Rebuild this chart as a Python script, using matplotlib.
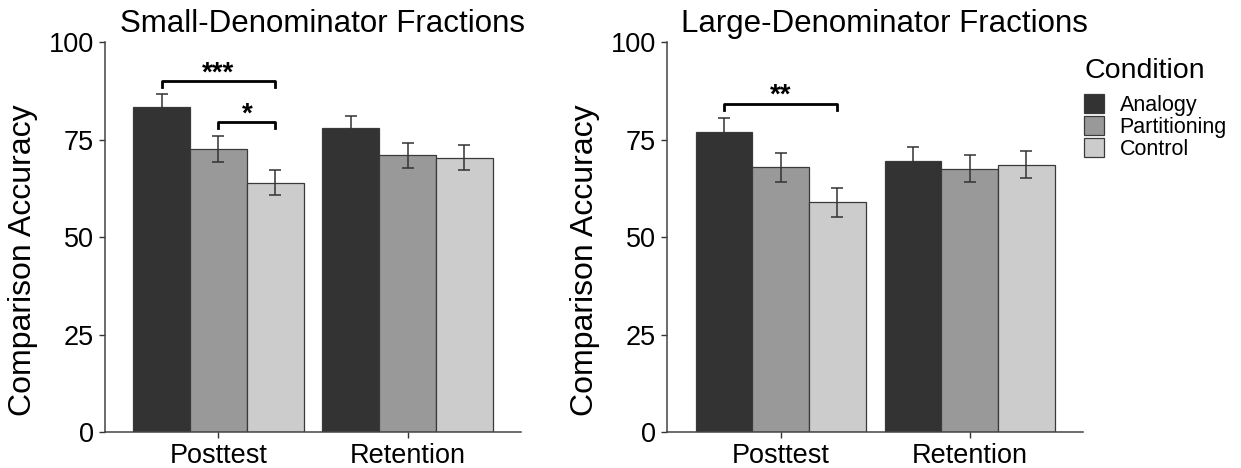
import numpy as np
import matplotlib.pyplot as plt
from matplotlib.patches import Patch

plt.rcParams['font.family'] = ['Liberation Sans', 'DejaVu Sans']

tests = ["Posttest", "Retention"]
conditions = ["Analogy", "Partitioning", "Control"]
colors = ["#333333", "#999999", "#cccccc"]

# mean accuracy, rows = condition, cols = test
small_mean = np.array([[83.4, 78.0],
                       [72.6, 71.0],
                       [63.9, 70.4]])
small_err = np.array([[3.2, 3.1],
                      [3.3, 3.2],
                      [3.2, 3.2]])
large_mean = np.array([[76.9, 69.6],
                       [67.9, 67.6],
                       [58.9, 68.6]])
large_err = np.array([[3.6, 3.4],
                      [3.7, 3.4],
                      [3.6, 3.5]])

# significance brackets: (condition from, condition to, test index, height, label)
small_sig = [(0, 2, 0, 90.0, "***"), (1, 2, 0, 79.5, "*")]
large_sig = [(0, 2, 0, 84.2, "**")]

fig = plt.figure(figsize=(12.41, 4.68), dpi=100)
ax1 = fig.add_axes([0.0846, 0.0763, 0.3352, 0.8337])
ax2 = fig.add_axes([0.5377, 0.0763, 0.3350, 0.8337])

w = 0.3
x = np.arange(1, len(tests) + 1)


def draw(ax, means, errs, sigs, title):
    for i in range(len(conditions)):
        pos = x + (i - 1) * w
        ax.bar(pos, means[i], width=w, color=colors[i], edgecolor="#3a3a3a",
               linewidth=0.9, zorder=2)
        ax.errorbar(pos, means[i], yerr=errs[i], fmt="none", ecolor="#333333",
                    elinewidth=1.1, capsize=4.6, capthick=1.1, zorder=3)
    for a, b, t, h, lab in sigs:
        xa = x[t] + (a - 1) * w
        xb = x[t] + (b - 1) * w
        ax.plot([xa, xa, xb, xb], [h - 1.5, h, h, h - 1.5], color="black",
                linewidth=2, zorder=4)
        ax.text((xa + xb) / 2, h + 0.2, lab, ha="center", va="baseline",
                fontsize=20, fontweight="bold")
    ax.set_xlim(0.4, 2.6)
    ax.set_ylim(0, 100)
    ax.set_yticks([0, 25, 50, 75, 100])
    ax.set_xticks(x)
    ax.set_xticklabels(tests)
    ax.tick_params(labelsize=19.5, colors="#333333", length=4, width=1,
                   labelcolor="black", pad=4)
    for s in ["top", "right"]:
        ax.spines[s].set_visible(False)
    for s in ["left", "bottom"]:
        ax.spines[s].set_color("#444444")
        ax.spines[s].set_linewidth(1.1)
    ax.set_ylabel("Comparison Accuracy", fontsize=23)
    ax.yaxis.set_label_coords(-0.161, 0.441)
    t = ax.set_title(title, fontsize=22.5, pad=7)
    t.set_x(0.522)


draw(ax1, small_mean, small_err, small_sig, "Small-Denominator Fractions")
draw(ax2, large_mean, large_err, large_sig, "Large-Denominator Fractions")

handles = [Patch(facecolor=c, edgecolor="#3a3a3a", linewidth=0.9) for c in colors]
leg = fig.legend(handles, conditions, loc="upper left",
                 bbox_to_anchor=(1084 / 1241, 0.875), frameon=False, fontsize=15.5,
                 title="Condition", title_fontsize=20.5, handlelength=0.93,
                 handleheight=0.97, handletextpad=0.72, labelspacing=0.0,
                 borderpad=0, borderaxespad=0)
leg._legend_box.align = "left"
leg._legend_box.sep = 7

fig.savefig("out.png", dpi=100)
